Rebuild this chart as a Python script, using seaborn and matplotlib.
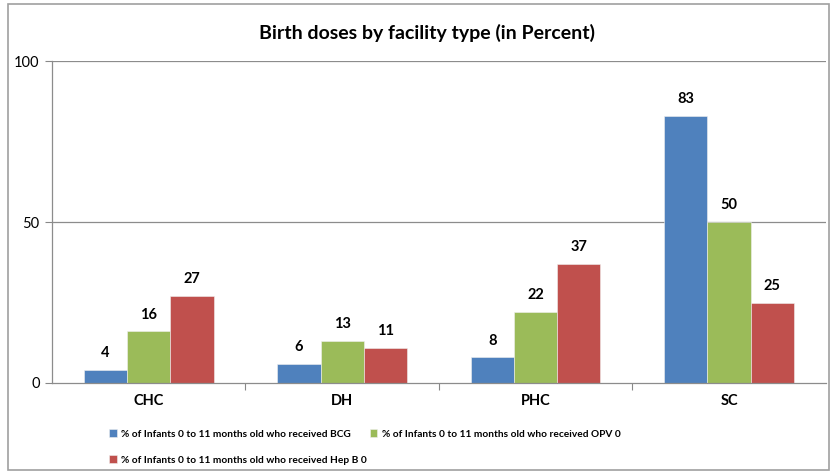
import matplotlib
matplotlib.use("Agg")
import matplotlib.pyplot as plt
import seaborn as sns
import pandas as pd
from matplotlib.patches import Rectangle

categories = ["CHC", "DH", "PHC", "SC"]
series_names = [
    "% of Infants 0 to 11 months old who received BCG",
    "% of Infants 0 to 11 months old who received OPV 0",
    "% of Infants 0 to 11 months old who received Hep B 0",
]
bcg = [4, 6, 8, 83]
opv0 = [16, 13, 22, 50]
hepb0 = [27, 11, 37, 25]
colors = ["#4F81BD", "#9BBB59", "#C0504D"]
yticks = [0, 50, 100]

rows = []
for name, vals in zip(series_names, [bcg, opv0, hepb0]):
    for c, v in zip(categories, vals):
        rows.append({"Facility": c, "Series": name, "Value": v})
df = pd.DataFrame(rows)

sns.set_style("white")
plt.rcParams["font.family"] = ["Lato", "DejaVu Sans"]
plt.rcParams["text.color"] = "black"
plt.rcParams["xtick.color"] = "black"
plt.rcParams["ytick.color"] = "black"

fig = plt.figure(figsize=(8.35, 4.74), dpi=100)
ax = fig.add_axes([0.0623, 0.192, 0.9267, 0.679])

sns.barplot(data=df, x="Facility", y="Value", hue="Series", order=categories,
            hue_order=series_names, palette=colors, width=0.67, saturation=1,
            edgecolor="#f0f0f0", linewidth=0.4, ax=ax, legend=True)

ax.set_xlim(-0.5, 3.5)
ax.set_ylim(0, 100)
ax.set_yticks(yticks)
ax.set_yticklabels([str(t) for t in yticks], fontsize=10.5)
ax.set_xticks([0.5, 1.5, 2.5], minor=True)
ax.set_xlabel("")
ax.set_ylabel("")
for lbl in ax.get_xticklabels():
    lbl.set_fontweight("bold")
    lbl.set_fontsize(10.5)
ax.tick_params(axis="x", which="major", length=0, pad=8, labelcolor="black")
ax.tick_params(axis="x", which="minor", length=5, width=0.8, color="#888888",
               direction="out", bottom=True)
ax.tick_params(axis="y", length=5, width=0.8, color="#888888", direction="out", pad=4,
               left=True, labelcolor="black")

for y in [50, 100]:
    ax.axhline(y, color="#8C8C8C", lw=0.9, zorder=0)
for s in ["top", "right"]:
    ax.spines[s].set_visible(False)
for s in ["left", "bottom"]:
    ax.spines[s].set_color("#8C8C8C")
    ax.spines[s].set_linewidth(0.9)

for cont in ax.containers:
    ax.bar_label(cont, labels=[f"{v:.0f}" for v in cont.datavalues], padding=7,
                 fontsize=10.5, fontweight="bold", color="black")

ax.set_title("Birth doses by facility type (in Percent)", fontsize=14,
             fontweight="bold", pad=16, color="black", x=0.4845)

handles, labels = ax.get_legend_handles_labels()
order = [0, 2, 1]
ax.legend([handles[i] for i in order], [labels[i] for i in order],
          loc="upper left", bbox_to_anchor=(0.062, -0.116), ncol=2,
          frameon=False, handlelength=0.75, handleheight=0.75,
          handletextpad=0.45, columnspacing=0.25, labelspacing=1.65,
          prop={"weight": "bold", "size": 7.3, "family": ["Lato", "DejaVu Sans"]})

fig.patches.append(Rectangle((0.009, 0.008), 0.984, 0.984, transform=fig.transFigure,
                             fill=False, edgecolor="#A0A0A0", lw=1.2))

fig.savefig("out.png", dpi=100)
